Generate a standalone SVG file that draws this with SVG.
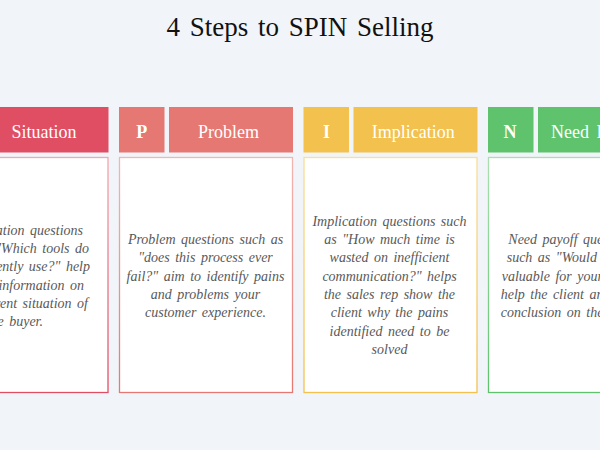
<svg xmlns="http://www.w3.org/2000/svg" width="600" height="450" viewBox="0 0 600 450">
  <defs>
    <linearGradient id="gS" x1="0" y1="0" x2="0" y2="1"><stop offset="0" stop-color="#F3A7B2"/><stop offset="1" stop-color="#E04E64"/></linearGradient>
    <linearGradient id="gP" x1="0" y1="0" x2="0" y2="1"><stop offset="0" stop-color="#F4B5B1"/><stop offset="1" stop-color="#E57872"/></linearGradient>
    <linearGradient id="gI" x1="0" y1="0" x2="0" y2="1"><stop offset="0" stop-color="#F9DE9C"/><stop offset="1" stop-color="#F2C14E"/></linearGradient>
    <linearGradient id="gN" x1="0" y1="0" x2="0" y2="1"><stop offset="0" stop-color="#A9E0B0"/><stop offset="1" stop-color="#5EC36C"/></linearGradient>
  </defs>
  <style>
    .title { font-family: "Liberation Serif", "Times New Roman", serif; font-size: 27px; fill: #111; text-anchor: middle; word-spacing: 3px; }
    .letter { font-family: "Liberation Serif", "Times New Roman", serif; font-size: 18px; font-weight: bold; fill: #fff; text-anchor: middle; }
    .label { font-family: "Liberation Serif", "Times New Roman", serif; font-size: 18px; fill: #fff; text-anchor: middle; }
    .body { fill: #fff; stroke-width: 1.3; }
    .txt { font-family: "Liberation Serif", "Times New Roman", serif; font-size: 14px; font-style: italic; fill: #595959; text-anchor: middle; word-spacing: 2px; }
  </style>
  <rect x="0" y="0" width="600" height="450" fill="#F1F4F8"/>
  <text class="title" x="300" y="36">4 Steps to SPIN Selling</text>

  <g id="situation">
    <rect x="-65.5" y="107" width="45.5" height="45.5" fill="#E04E64"/>
    <rect x="-15.5" y="107" width="124" height="45.5" fill="#E04E64"/>
    <text class="letter" x="-42.8" y="138">S</text>
    <text class="label" x="44" y="138">Situation</text>
    <rect class="body" x="-65" y="157.5" width="173" height="235" stroke="url(#gS)"/>
    <g class="txt" style="text-anchor:end">
      <text x="83" y="234.7">Situation questions</text>
      <text x="89" y="253">such as "Which tools do</text>
      <text x="90" y="271.4">you currently use?" help</text>
      <text x="84" y="289.7">gather information on</text>
      <text x="88" y="308">the current situation of</text>
      <text x="43" y="326.4">the buyer.</text>
    </g>
  </g>

  <g id="problem">
    <rect x="119" y="107" width="45.5" height="45.5" fill="#E57872"/>
    <rect x="169" y="107" width="124" height="45.5" fill="#E57872"/>
    <text class="letter" x="141.7" y="138">P</text>
    <text class="label" x="228.5" y="138">Problem</text>
    <rect class="body" x="119.5" y="157.5" width="173" height="235" stroke="url(#gP)"/>
    <g class="txt">
      <text x="205.5" y="244">Problem questions such as</text>
      <text x="205.5" y="262.3">"does this process ever</text>
      <text x="205.5" y="280.7">fail?" aim to identify pains</text>
      <text x="205.5" y="299">and problems your</text>
      <text x="205.5" y="317.3">customer experience.</text>
    </g>
  </g>

  <g id="implication">
    <rect x="303.5" y="107" width="45.5" height="45.5" fill="#F2C14E"/>
    <rect x="353.5" y="107" width="124" height="45.5" fill="#F2C14E"/>
    <text class="letter" x="326.5" y="138">I</text>
    <text class="label" x="413.2" y="138">Implication</text>
    <rect class="body" x="304" y="157.5" width="173" height="235" stroke="url(#gI)"/>
    <g class="txt">
      <text x="389.5" y="225.7">Implication questions such</text>
      <text x="389.5" y="244">as "How much time is</text>
      <text x="389.5" y="262.3">wasted on inefficient</text>
      <text x="389.5" y="280.7">communication?" helps</text>
      <text x="389.5" y="299">the sales rep show the</text>
      <text x="389.5" y="317.3">client why the pains</text>
      <text x="389.5" y="335.7">identified need to be</text>
      <text x="389.5" y="354">solved</text>
    </g>
  </g>

  <g id="need-payoff">
    <rect x="488" y="107" width="45.5" height="45.5" fill="#5EC36C"/>
    <rect x="538" y="107" width="124" height="45.5" fill="#5EC36C"/>
    <text class="letter" x="510" y="138">N</text>
    <text class="label" x="551" y="138" style="text-anchor:start;word-spacing:3px">Need Payoff</text>
    <rect class="body" x="488.5" y="157.5" width="173" height="235" stroke="url(#gN)"/>
    <g class="txt" style="text-anchor:start">
      <text x="508.3" y="244">Need payoff questions</text>
      <text x="506.7" y="262.3">such as "Would this be</text>
      <text x="501.7" y="280.7">valuable for your team?"</text>
      <text x="500.7" y="299">help the client arrive at a</text>
      <text x="500.7" y="317.3">conclusion on their own.</text>
    </g>
  </g>
</svg>
